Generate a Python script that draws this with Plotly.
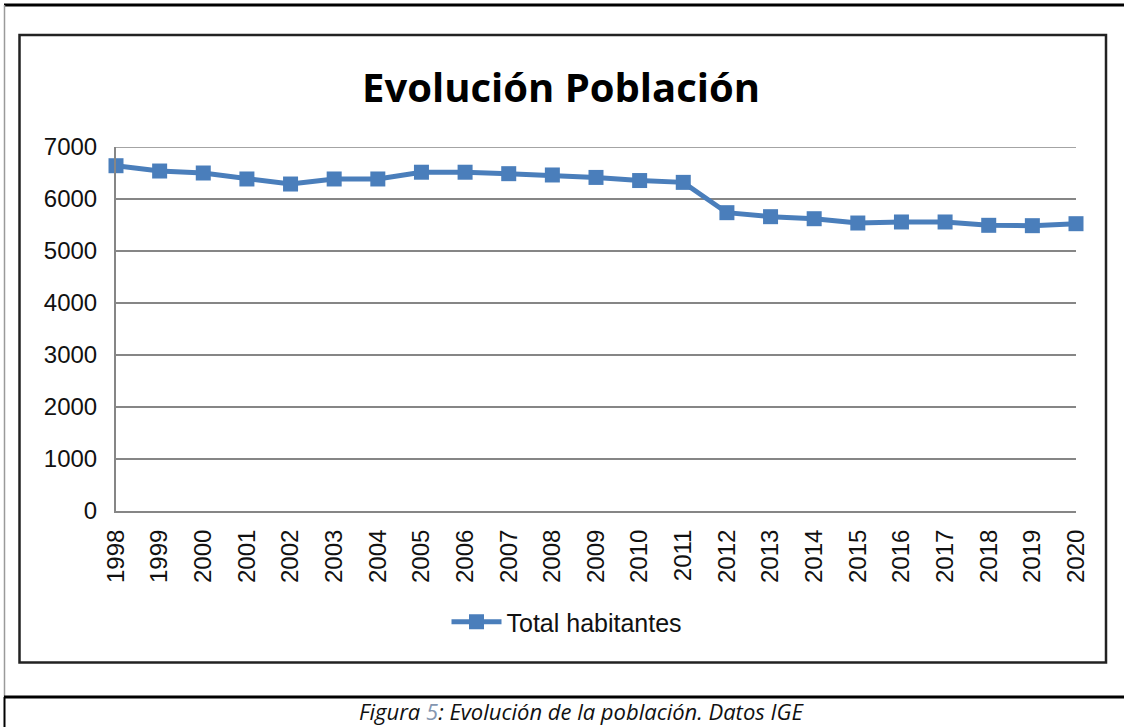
import plotly.graph_objects as go

years = [str(y) for y in range(1998, 2021)]
habitantes = [6640, 6538, 6500, 6385, 6288, 6385, 6385, 6515, 6515, 6487, 6462,
              6415, 6355, 6320, 5737, 5660, 5621, 5538, 5558, 5558, 5494, 5487, 5525]
y_ticks = [0, 1000, 2000, 3000, 4000, 5000, 6000, 7000]

W, H = 1124, 727
L, R, T, B = 116, 1076, 147, 511


def px(x):
    return (x - L) / (R - L)


def py(y):
    return (B - y) / (B - T)


fig = go.Figure()
fig.add_trace(go.Scatter(
    x=years, y=habitantes, mode="lines+markers", name="Total habitantes",
    line=dict(color="#4A7EBB", width=5),
    marker=dict(symbol="square", size=15, color="#4A7EBB"),
    cliponaxis=False,
))

line_gray = "#868686"
shapes = [
    # outer page border lines
    dict(type="line", xref="paper", yref="paper", x0=px(4), x1=px(1124), y0=py(5), y1=py(5),
         line=dict(color="black", width=3)),
    dict(type="line", xref="paper", yref="paper", x0=px(4.5), x1=px(4.5), y0=py(5), y1=py(697),
         line=dict(color="#9a9a9a", width=1.5)),
    dict(type="line", xref="paper", yref="paper", x0=px(4.5), x1=px(4.5), y0=py(697), y1=py(727),
         line=dict(color="black", width=2)),
    dict(type="line", xref="paper", yref="paper", x0=px(4), x1=px(1124), y0=py(697), y1=py(697),
         line=dict(color="black", width=3)),
    # chart frame
    dict(type="rect", xref="paper", yref="paper", x0=px(19.5), x1=px(1106), y0=py(662.5), y1=py(35),
         line=dict(color="#222222", width=2.5)),
    # top gridline at the axis maximum
    dict(type="line", xref="paper", yref="y", x0=0, x1=1, y0=y_ticks[-1], y1=y_ticks[-1],
         line=dict(color=line_gray, width=1.5), layer="below"),
]

fig.update_layout(
    width=W, height=H,
    margin=dict(l=L, r=W - R, t=T, b=H - B, pad=0),
    paper_bgcolor="white", plot_bgcolor="white",
    showlegend=True,
    legend=dict(orientation="h", x=px(567), y=py(622), xanchor="center", yanchor="middle",
                font=dict(family="Liberation Sans, Arial", size=25, color="#111111"),
                itemwidth=50, bgcolor="rgba(0,0,0,0)"),
    shapes=shapes,
    xaxis=dict(type="category", range=[0, len(years) - 1], showgrid=False,
               showline=True, linecolor=line_gray, linewidth=2, ticks="",
               tickangle=-90, ticklabelstandoff=7,
               tickfont=dict(family="Liberation Sans, Arial", size=24, color="#111111")),
    yaxis=dict(range=[0, 7000], tickvals=y_ticks, showgrid=True, gridcolor=line_gray,
               gridwidth=1.5, showline=True, linecolor=line_gray, linewidth=2, zeroline=False,
               ticks="", ticklabelstandoff=12,
               tickfont=dict(family="Liberation Sans, Arial", size=24, color="#111111")),
    annotations=[
        dict(text="<b>Evolución Población</b>", xref="paper", yref="paper",
             x=px(561), y=py(87), xanchor="center", yanchor="middle", showarrow=False,
             font=dict(family="Open Sans", size=40, color="black")),
        dict(text="<i>Figura <span style='color:#8496B0'>5</span>: Evolución de la población. Datos IGE</i>",
             xref="paper", yref="paper", x=px(581), y=py(711), xanchor="center", yanchor="middle",
             showarrow=False, font=dict(family="Open Sans", size=22, color="#111111")),
    ],
)

fig.write_html("out.html", config={"displayModeBar": False},
               post_script="document.body.style.margin='0';document.body.style.overflow='hidden';")
